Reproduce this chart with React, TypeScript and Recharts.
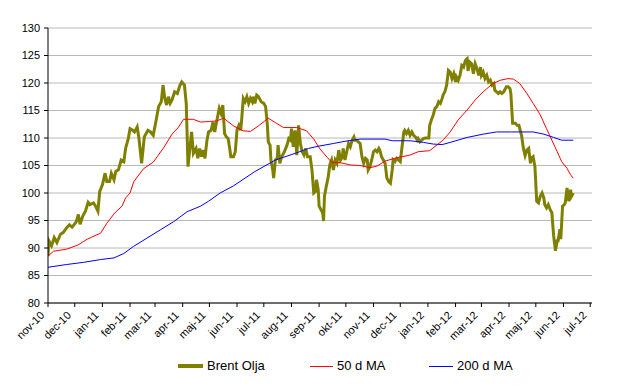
import React from 'react';
import { LineChart, Line, XAxis, YAxis, CartesianGrid, Legend } from 'recharts';

// x = days since 2010-11-01
const monthTickDays = [0, 30, 61, 92, 120, 151, 181, 212, 242, 273, 304, 334, 365, 395, 426, 457, 486, 517, 547, 578, 608];
const monthTickLabels = ['nov-10', 'dec-10', 'jan-11', 'feb-11', 'mar-11', 'apr-11', 'maj-11', 'jun-11', 'jul-11', 'aug-11', 'sep-11', 'okt-11', 'nov-11', 'dec-11', 'jan-12', 'feb-12', 'mar-12', 'apr-12', 'maj-12', 'jun-12', 'jul-12'];
const yTicks = [80, 85, 90, 95, 100, 105, 110, 115, 120, 125, 130];

const brentDays = [
  0, 1, 4, 7, 10, 14, 17, 21, 24, 27,
  31, 32, 34, 36, 39, 42, 45, 47, 51, 53,
  56, 58, 61, 64, 66, 69, 71, 74, 76, 79,
  82, 85, 87, 90, 92, 95, 97, 100, 102, 105,
  108, 112, 115, 118, 121, 124, 127, 129, 131, 133,
  135, 137, 139, 142, 145, 148, 150, 153, 155, 157,
  160, 161, 163, 166, 168, 170, 172, 174, 176, 178,
  180, 183, 185, 187, 189, 192, 194, 196, 198, 200,
  202, 204, 205, 208, 210, 212, 214, 216, 217, 219,
  221, 223, 225, 227, 229, 230, 232, 234, 236, 239,
  242, 244, 246, 247, 249, 250, 252, 253, 255, 257,
  258, 260, 262, 265, 268, 270, 272, 273, 275, 277,
  279, 281, 283, 285, 287, 289, 291, 294, 296, 298,
  300, 301, 303, 304, 306, 308, 309, 310, 312, 314,
  316, 318, 320, 322, 324, 326, 328, 330, 331, 333,
  335, 337, 339, 341, 343, 344, 346, 348, 350, 352,
  354, 356, 358, 359, 361, 363, 365, 367, 369, 371,
  372, 374, 376, 378, 380, 382, 384, 386, 387, 389,
  391, 393, 395, 397, 399, 400, 402, 404, 406, 408,
  410, 412, 414, 415, 417, 419, 421, 423, 427, 428,
  430, 432, 434, 436, 438, 440, 442, 443, 445, 447,
  449, 451, 453, 455, 457, 458, 460, 462, 464, 466,
  468, 470, 471, 473, 475, 477, 479, 481, 483, 485,
  486, 488, 490, 492, 494, 496, 498, 500, 501, 503,
  505, 507, 509, 511, 513, 514, 516, 518, 519, 521,
  524, 526, 528, 529, 531, 533, 535, 537, 539, 541,
  542, 544, 546, 548, 550, 552, 554, 556, 557, 559,
  561, 563, 565, 567, 569, 571, 572, 574, 575, 577,
  579, 580, 582, 584, 586, 587, 589,
];
const brentValues = [
  88.6, 91.3, 90.4, 91.9, 91.0, 92.5, 92.8, 93.7, 94.2, 93.8,
  94.6, 94.9, 96.1, 94.3, 95.8, 96.7, 98.3, 97.9, 98.2, 97.7,
  96.7, 100.3, 101.5, 103.6, 102.1, 102.1, 103.6, 102.4, 103.9, 104.2,
  106.0, 105.7, 108.1, 109.9, 111.7, 111.4, 111.1, 112.0, 109.9, 105.4,
  110.2, 111.4, 111.1, 110.5, 113.0, 115.7, 116.6, 119.6, 117.2, 116.0,
  117.5, 116.3, 116.9, 118.4, 118.1, 119.6, 120.2, 119.6, 116.3, 104.8,
  109.6, 111.1, 107.2, 108.1, 106.3, 108.1, 106.6, 107.8, 106.3, 109.3,
  111.1, 111.4, 112.9, 111.1, 112.9, 115.4, 114.5, 116.0, 110.8, 110.2,
  109.9, 107.8, 106.6, 106.6, 107.5, 111.5, 112.3, 111.4, 113.0, 117.2,
  116.6, 117.5, 116.3, 117.2, 116.6, 117.5, 116.3, 117.8, 117.5, 116.6,
  116.3, 115.7, 112.3, 109.3, 108.7, 106.0, 104.2, 102.7, 106.0, 106.3,
  108.7, 105.4, 106.6, 107.5, 108.7, 109.9, 109.6, 111.7, 108.4, 111.4,
  106.9, 112.3, 109.0, 107.5, 106.9, 108.1, 106.6, 106.6, 104.2, 100.0,
  100.3, 102.4, 100.6, 97.6, 97.0, 96.4, 94.9, 99.4, 101.2, 102.7,
  105.1, 106.0, 104.2, 106.0, 105.4, 107.8, 106.0, 106.6, 108.1, 106.0,
  107.5, 109.0, 108.4, 109.6, 110.2, 109.6, 109.6, 109.3, 109.0, 106.6,
  105.4, 106.3, 106.0, 104.2, 104.8, 106.0, 107.5, 107.8, 107.5, 108.1,
  107.8, 106.6, 106.0, 105.4, 102.7, 102.1, 101.8, 104.2, 106.0, 105.7,
  106.3, 106.0, 105.7, 108.4, 111.1, 111.4, 110.8, 111.4, 110.5, 111.1,
  110.5, 110.2, 109.6, 109.9, 109.3, 109.6, 109.9, 110.0, 110.0, 112.3,
  113.3, 114.2, 115.4, 115.7, 116.6, 116.3, 117.2, 117.8, 118.4, 119.6,
  122.3, 122.0, 120.8, 121.7, 120.2, 121.1, 120.5, 121.4, 123.2, 122.9,
  124.1, 124.4, 122.2, 123.8, 123.5, 121.7, 123.5, 122.6, 121.4, 122.9,
  121.4, 122.0, 120.8, 121.4, 120.2, 120.5, 119.6, 119.9, 118.7, 118.4,
  118.1, 118.4, 118.1, 118.4, 119.0, 119.3, 119.3, 119.0, 118.1, 112.7,
  112.7, 112.3, 112.3, 111.7, 110.5, 108.2, 106.8, 107.8, 108.1, 105.4,
  106.3, 106.6, 104.8, 98.5, 98.2, 99.4, 100.0, 99.1, 97.9, 97.3,
  97.9, 97.0, 96.4, 92.2, 89.5, 91.3, 91.3, 93.4, 91.6, 97.6,
  97.9, 98.2, 100.9, 98.5, 100.6, 99.4, 100.0,
];

const ma50Days = [
  0, 6, 21, 33, 44, 59, 66, 75, 83, 87,
  92, 96, 107, 118, 130, 139, 146, 152, 163, 171,
  181, 189, 197, 208, 219, 227, 236, 247, 255, 264,
  279, 290, 298, 305, 313, 318, 328, 339, 350, 361,
  369, 378, 391, 406, 415, 428, 443, 451, 460, 470,
  479, 488, 498, 507, 516, 522, 529, 537, 544, 552,
  559, 565, 571, 576, 582, 586, 589,
];
const ma50Values = [
  88.5, 89.4, 89.8, 90.5, 91.6, 92.7, 94.5, 96.4, 97.6, 99.1,
  100.0, 102.0, 104.4, 105.6, 108.3, 110.7, 111.9, 113.4, 113.4, 112.9,
  113.0, 113.1, 113.6, 112.2, 111.3, 111.2, 112.2, 113.6, 112.8, 111.9,
  111.9, 111.3, 109.8, 108.0, 106.5, 105.6, 105.5, 105.1, 105.0, 104.6,
  104.9, 105.8, 106.4, 106.9, 107.5, 107.7, 109.6, 111.1, 113.3, 115.1,
  116.9, 118.4, 119.8, 120.5, 120.8, 120.7, 119.9, 118.1, 116.3, 114.2,
  111.7, 109.6, 107.5, 105.7, 104.5, 103.3, 102.7,
];

const ma200Days = [
  0, 21, 40, 59, 74, 85, 96, 111, 126, 141,
  156, 171, 180, 193, 208, 232, 255, 277, 292, 303,
  320, 333, 350, 378, 386, 406, 421, 432, 442, 451,
  470, 488, 503, 520, 544, 556, 567, 576, 589,
];
const ma200Values = [
  86.5, 87.0, 87.4, 87.9, 88.2, 89.0, 90.3, 91.8, 93.3, 94.8,
  96.6, 97.6, 98.5, 100.0, 101.3, 103.9, 106.0, 107.2, 108.1, 108.5,
  109.0, 109.4, 109.8, 109.8, 109.5, 109.5, 109.2, 108.9, 108.8, 109.2,
  110.1, 110.7, 111.1, 111.1, 111.1, 110.7, 110.1, 109.6, 109.6,
];

const seriesNames = ['Brent Olja', '50 d MA', '200 d MA'];
const seriesColors = ['#808000', '#ff0000', '#0000ff'];

const brentData = brentDays.map((d, i) => ({ day: d, value: brentValues[i] }));
const ma50Data = ma50Days.map((d, i) => ({ day: d, value: ma50Values[i] }));
const ma200Data = ma200Days.map((d, i) => ({ day: d, value: ma200Values[i] }));

const FONT = '"Liberation Sans", Arial, sans-serif';

const XTick = (props: any) => {
  const { x, y, payload } = props;
  const idx = monthTickDays.indexOf(payload.value);
  return (
    <g transform={`translate(${x - 3},${y + 7})`}>
      <text textAnchor="end" transform="rotate(-45)" fontSize={11} fontFamily={FONT} fill="#000">
        {monthTickLabels[idx]}
      </text>
    </g>
  );
};

const legendLayout = [
  { lineX: 170, lineW: 25, textX: 199, thick: 4 },
  { lineX: 302, lineW: 23, textX: 329, thick: 1 },
  { lineX: 421, lineW: 24, textX: 449, thick: 1 },
];

const renderLegend = () => (
  <div style={{ position: 'relative', width: 613, height: 20, fontFamily: FONT, fontSize: 13, color: '#000' }}>
    {seriesNames.map((name, i) => (
      <React.Fragment key={name}>
        <div
          style={{
            position: 'absolute',
            left: legendLayout[i].lineX,
            top: 10 - legendLayout[i].thick / 2,
            width: legendLayout[i].lineW,
            height: legendLayout[i].thick,
            background: seriesColors[i],
          }}
        />
        <div style={{ position: 'absolute', left: legendLayout[i].textX, top: 2, lineHeight: '15px', whiteSpace: 'nowrap' }}>
          {name}
        </div>
      </React.Fragment>
    ))}
  </div>
);

export default function App() {
  return (
    <div style={{ width: 613, height: 381, position: 'relative' }}>
      <LineChart width={613} height={381} margin={{ top: 20, right: 29, left: 0, bottom: 0 }}>
        <CartesianGrid horizontal vertical={false} stroke="#b8b8b8" strokeWidth={1} />
        <XAxis
          dataKey="day"
          type="number"
          domain={[0, 610]}
          ticks={monthTickDays}
          interval={0}
          allowDataOverflow
          tick={<XTick />}
          tickSize={4}
          tickLine={{ stroke: '#000' }}
          axisLine={{ stroke: '#000' }}
          height={66}
        />
        <YAxis
          domain={[80, 130]}
          ticks={yTicks}
          interval={0}
          width={40}
          tickSize={4}
          tickMargin={4}
          tick={{ fontSize: 11, fontFamily: FONT, fill: '#000' }}
          tickLine={{ stroke: '#000' }}
          axisLine={{ stroke: '#000' }}
        />
        <Legend
          verticalAlign="bottom"
          content={renderLegend}
          wrapperStyle={{ position: 'absolute', left: 0, top: 348, width: 613, height: 20 }}
        />
        <Line data={brentData} dataKey="value" name={seriesNames[0]} stroke={seriesColors[0]} strokeWidth={3} dot={false} isAnimationActive={false} type="linear" />
        <Line data={ma50Data} dataKey="value" name={seriesNames[1]} stroke={seriesColors[1]} strokeWidth={1} dot={false} isAnimationActive={false} type="linear" />
        <Line data={ma200Data} dataKey="value" name={seriesNames[2]} stroke={seriesColors[2]} strokeWidth={1} dot={false} isAnimationActive={false} type="linear" />
      </LineChart>
    </div>
  );
}
